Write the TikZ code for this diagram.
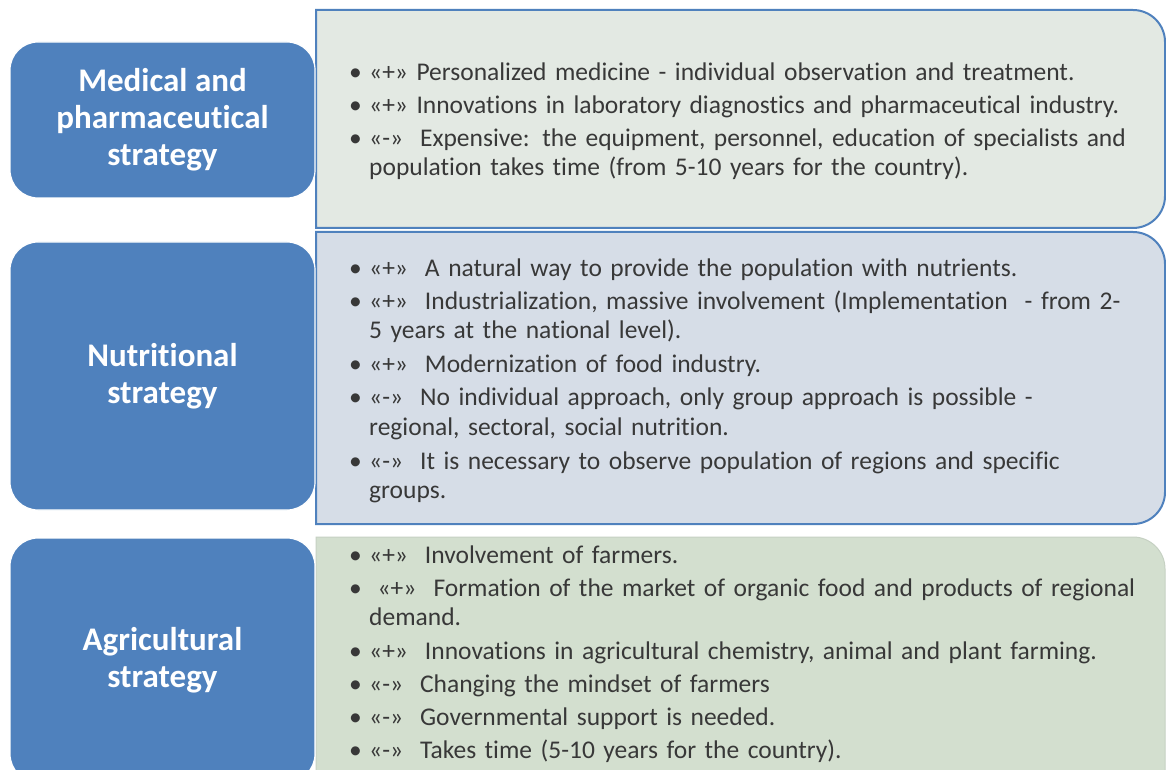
\documentclass[tikz,border=0pt]{standalone}
\usepackage{fontspec}
\setmainfont{Carlito}[Ligatures=CommonOff]
\usepackage{tikz}
\definecolor{stratblue}{HTML}{4F81BD}
\definecolor{medfill}{HTML}{E3E9E3}
\definecolor{nutfill}{HTML}{D6DDE7}
\definecolor{agrfill}{HTML}{D3DFCF}
\definecolor{pointtext}{HTML}{383838}
\tikzstyle{strategy}=[rectangle,rounded corners=28pt,draw=white,line width=1.2pt,fill=stratblue,text=white,font=\fontsize{33}{37}\selectfont\bfseries,align=center,minimum width=305pt,inner sep=0pt]
\tikzstyle{panel}=[draw=stratblue,line width=2pt]
\tikzstyle{points}=[anchor=north west,text width=800pt,inner sep=0pt,align=left,text=pointtext,font=\fontsize{25.5}{29.5}\selectfont,execute at begin node={\setlength{\parskip}{3.5pt}}]
\newcommand{\pro}[1]{\par\noindent\makebox[20pt][l]{\textbullet}\begin{tabular}[t]{@{}l@{}}#1\end{tabular}\par}

\begin{document}
\begin{tikzpicture}[x=1pt,y=1pt]
      \useasboundingbox (0,0) rectangle (1166,769);
      \fill[white] (0,0) rectangle (1166,769);
      \draw[panel,fill=medfill] (316,541) -- (316,759) -- (1133,759) arc[start angle=90,end angle=0,radius=32] -- (1165,573) arc[start angle=0,end angle=-90,radius=32] -- cycle;
      \draw[panel,fill=nutfill] (316,245) -- (316,537) -- (1133,537) arc[start angle=90,end angle=0,radius=32] -- (1165,277) arc[start angle=0,end angle=-90,radius=32] -- cycle;
      \draw[draw=agrfill!85!gray,line width=1pt,fill=agrfill] (316,-30) -- (316,232) -- (1133,232) arc[start angle=90,end angle=0,radius=32] -- (1165,-30) -- cycle;
      \node [strategy, minimum height=156pt] (medical) at (162.5,649) {Medical and\\pharmaceutical\\strategy};
      \node [strategy, minimum height=268pt] (nutritional) at (162.5,393) {Nutritional\\strategy};
      \node [strategy, minimum height=244pt] (agricultural) at (162.5,109) {Agricultural\\strategy};
      \node [points] (medpoints) at (349,722) {%
        \pro{«+» Personalized medicine - individual observation and treatment.}
        \pro{«+» Innovations in laboratory diagnostics and pharmaceutical industry.}
        \pro{«-»\ \ Expensive: the equipment, personnel, education of specialists and\\population takes time (from 5-10 years for the country).}};
      \node [points] (nutpoints) at (349,526) {%
        \pro{«+»\ \ A natural way to provide the population with nutrients.}
        \pro{«+»\ \ Industrialization, massive involvement (Implementation\ \ - from 2-\\5 years at the national level).}
        \pro{«+»\ \ Modernization of food industry.}
        \pro{«-»\ \ No individual approach, only group approach is possible -\\regional, sectoral, social nutrition.}
        \pro{«-»\ \ It is necessary to observe population of regions and specific\\groups.}};
      \node [points] (agrpoints) at (349,239) {%
        \pro{«+»\ \ Involvement of farmers.}
        \pro{\ «+»\ \ Formation of the market of organic food and products of regional\\demand.}
        \pro{«+»\ \ Innovations in agricultural chemistry, animal and plant farming.}
        \pro{«-»\ \ Changing the mindset of farmers}
        \pro{«-»\ \ Governmental support is needed.}
        \pro{«-»\ \ Takes time (5-10 years for the country).}};
    \end{tikzpicture}
\end{document}
